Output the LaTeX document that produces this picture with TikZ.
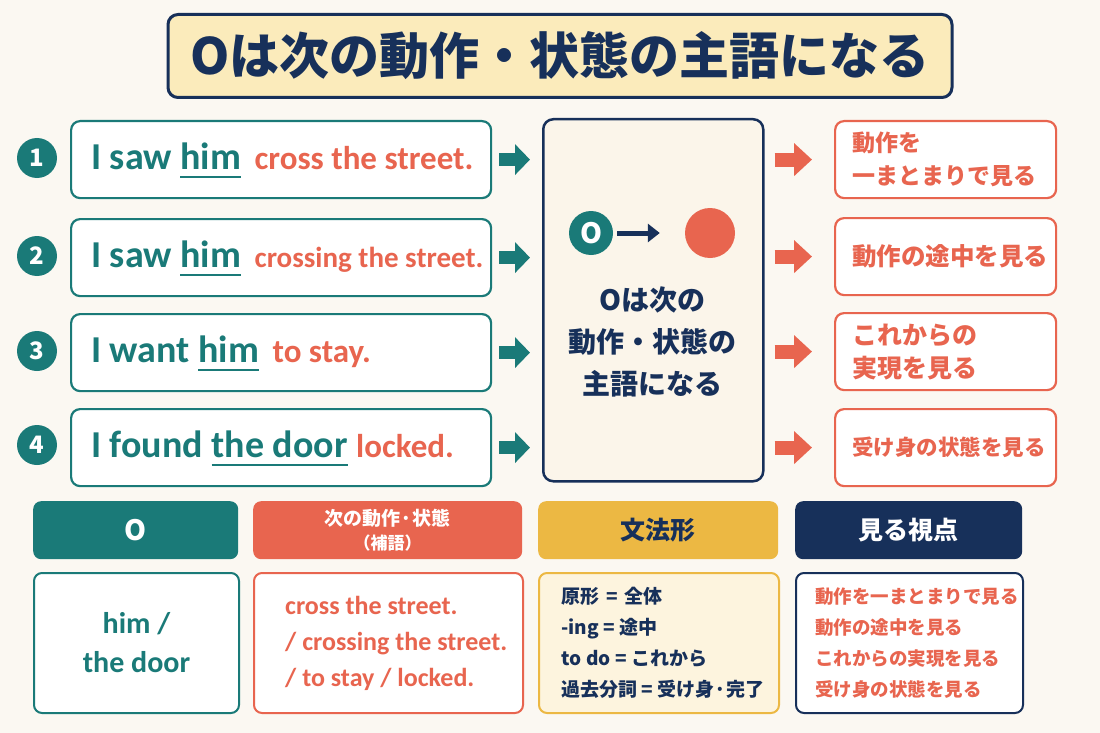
\documentclass[tikz,border=0pt]{standalone}
\usepackage{fontspec}
\setmainfont{Noto Sans CJK JP}
\newfontfamily\lat{Carlito}
\usetikzlibrary{arrows.meta}
\definecolor{bgc}{HTML}{FBF8F2}
\definecolor{tealc}{HTML}{1A7A78}
\definecolor{redc}{HTML}{E8654F}
\definecolor{navyc}{HTML}{17305A}
\definecolor{goldc}{HTML}{ECB843}
\definecolor{titlec}{HTML}{FBEBBB}
\definecolor{centc}{HTML}{FBF5EA}
\definecolor{palec}{HTML}{FDF4DE}
\newcommand{\fs}[2]{\fontsize{#1}{#2}\selectfont}
\newcommand{\ulword}[1]{\setbox0\hbox{#1}\rlap{\rule[-8pt]{\wd0}{2.2pt}}\box0\relax}

\begin{document}
\begin{tikzpicture}[x=1pt,y=-1pt,
  every node/.style={font=\bfseries},
  sent/.style={draw=tealc,line width=2.2pt,rounded corners=9pt,fill=white,anchor=north west,
    minimum width=420pt,minimum height=77pt},
  senttext/.style={anchor=west,inner sep=0pt,font=\bfseries\lat\fs{38}{38},text=tealc},
  look/.style={draw=redc,line width=2.2pt,rounded corners=9pt,fill=white,anchor=north west,
    minimum width=221pt,minimum height=77pt},
  looktext/.style={anchor=west,inner sep=0pt,align=left,text=redc},
  num/.style={circle,fill=tealc,minimum size=40pt,inner sep=0pt,text=white,font=\bfseries\fs{24}{24}},
  head/.style={rounded corners=8pt,anchor=north west,minimum height=58pt,inner sep=0pt,align=center},
  cell/.style={rounded corners=8pt,anchor=north west,minimum height=140pt,line width=2pt,inner sep=0pt},
  tarrow/.style={tealc,line width=13pt,-{Triangle[length=15pt,width=30pt]}},
  rarrow/.style={redc,line width=14pt,-{Triangle[length=18pt,width=32pt]}}]
\fill[bgc] (0,0) rectangle (1100,733);
\useasboundingbox (0,0) rectangle (1100,733);

\node[draw=navyc,line width=3pt,rounded corners=10pt,fill=titlec,minimum width=784pt,minimum height=83pt,
  text=navyc,font=\bfseries\fs{50}{50}] (title) at (560,56) {Oは次の動作・状態の主語になる};

\node[num] (n1) at (37,158) {1};
\node[num] (n2) at (37,256) {2};
\node[num] (n3) at (37,351) {3};
\node[num] (n4) at (37,445) {4};

\node[sent] (s1) at (70,120) {};
\node[sent] (s2) at (70,218) {};
\node[sent] (s3) at (70,313) {};
\node[sent] (s4) at (70,408) {};
\node[senttext] (w1) at ([xshift=21pt,yshift=-1pt]s1.west) {I saw \ulword{him}\hspace{5pt} \color{redc}\fs{33}{33}cross the street.};
\node[senttext] (w2) at ([xshift=21pt,yshift=-1pt]s2.west) {I saw \ulword{him}\hspace{5pt} \color{redc}\fs{29}{29}crossing the street.};
\node[senttext] (w3) at ([xshift=21pt,yshift=-1pt]s3.west) {I want \ulword{him}\hspace{5pt} \color{redc}\fs{33}{33}to stay.};
\node[senttext] (w4) at ([xshift=21pt,yshift=-1pt]s4.west) {I found \ulword{the door} \color{redc}\fs{33}{33}locked.};

\node[draw=navyc,line width=2.5pt,rounded corners=10pt,fill=centc,anchor=north west,
  minimum width=220pt,minimum height=362pt] (c) at (542,118) {};
\node[circle,fill=tealc,minimum size=44pt,inner sep=0pt,text=white,font=\bfseries\fs{28}{28}] (o) at (591,233) {O};
\node[circle,fill=redc,minimum size=50pt,inner sep=0pt] (v) at (710,233) {};
\draw[navyc,line width=5pt,-{Triangle[length=12pt,width=18pt]}] ([xshift=4pt]o.east) -- ([xshift=-25pt]v.west);
\node[text=navyc,align=center,font=\bfseries\fs{28}{42}] (ct) at (652,342) {Oは次の\\動作・状態の\\主語になる};

\node[look] (r1) at (834,120) {};
\node[look] (r2) at (834,217) {};
\node[look] (r3) at (834,312) {};
\node[look] (r4) at (834,408) {};
\node[looktext,font=\bfseries\fs{23}{33}] (q1) at ([xshift=18pt]r1.west) {動作を\\一まとまりで見る};
\node[looktext,font=\bfseries\fs{24.5}{33}] (q2) at ([xshift=18pt]r2.west) {動作の途中を見る};
\node[looktext,font=\bfseries\fs{25}{33}] (q3) at ([xshift=18pt]r3.west) {これからの\\実現を見る};
\node[looktext,font=\bfseries\fs{21.5}{33}] (q4) at ([xshift=18pt]r4.west) {受け身の状態を見る};

\draw[tarrow] ([xshift=7pt]s1.east) -- ([xshift=-12pt]c.west |- s1.east);
\draw[tarrow] ([xshift=7pt]s2.east) -- ([xshift=-12pt]c.west |- s2.east);
\draw[tarrow] ([xshift=7pt]s3.east) -- ([xshift=-12pt]c.west |- s3.east);
\draw[tarrow] ([xshift=7pt]s4.east) -- ([xshift=-12pt]c.west |- s4.east);
\draw[rarrow] ([xshift=10pt]c.east |- r1.west) -- ([xshift=-22pt]r1.west);
\draw[rarrow] ([xshift=10pt]c.east |- r2.west) -- ([xshift=-22pt]r2.west);
\draw[rarrow] ([xshift=10pt]c.east |- r3.west) -- ([xshift=-22pt]r3.west);
\draw[rarrow] ([xshift=10pt]c.east |- r4.west) -- ([xshift=-22pt]r4.west);

\node[head,fill=tealc,minimum width=205pt,text=white,font=\bfseries\fs{28}{28}] (h1) at (33,501) {O};
\node[head,fill=redc,minimum width=269pt,text=white,font=\bfseries\fs{19}{24}] (h2) at (253,501) {次の動作·状態\\{\fs{17}{17}（補語）}};
\node[head,fill=goldc,minimum width=240pt,text=navyc,font=\bfseries\fs{25}{25}] (h3) at (538,501) {文法形};
\node[head,fill=navyc,minimum width=227pt,text=white,font=\bfseries\fs{25}{25}] (h4) at (795,501) {見る視点};

\node[cell,draw=tealc,fill=white,minimum width=205pt] (b1) at (33,572) {};
\node[cell,draw=redc,fill=white,minimum width=269pt] (b2) at (253,572) {};
\node[cell,draw=goldc,fill=palec,minimum width=240pt] (b3) at (538,572) {};
\node[cell,draw=navyc,fill=white,minimum width=227pt] (b4) at (795,572) {};
\node[text=tealc,align=center,font=\bfseries\lat\fs{30}{39}] (t1) at (b1.center) {him /\\the door};
\node[anchor=west,inner sep=0pt,text=redc,align=left,font=\bfseries\lat\fs{26}{36}] (t2) at ([xshift=32pt]b2.west) {cross the street.\\/ crossing the street.\\/ to stay / locked.};
\node[anchor=west,inner sep=0pt,text=navyc,align=left,font=\bfseries\fs{19}{31}] (t3) at ([xshift=23pt]b3.west) {原形\hspace{7pt}=\hspace{7pt}全体\\-ing = 途中\\to\hspace{5pt}do = これから\\過去分詞 = 受け身·完了};
\node[anchor=west,inner sep=0pt,text=redc,align=left,font=\bfseries\fs{18.5}{31}] (t4) at ([xshift=20pt]b4.west) {動作を一まとまりで見る\\動作の途中を見る\\これからの実現を見る\\受け身の状態を見る};
\end{tikzpicture}
\end{document}
